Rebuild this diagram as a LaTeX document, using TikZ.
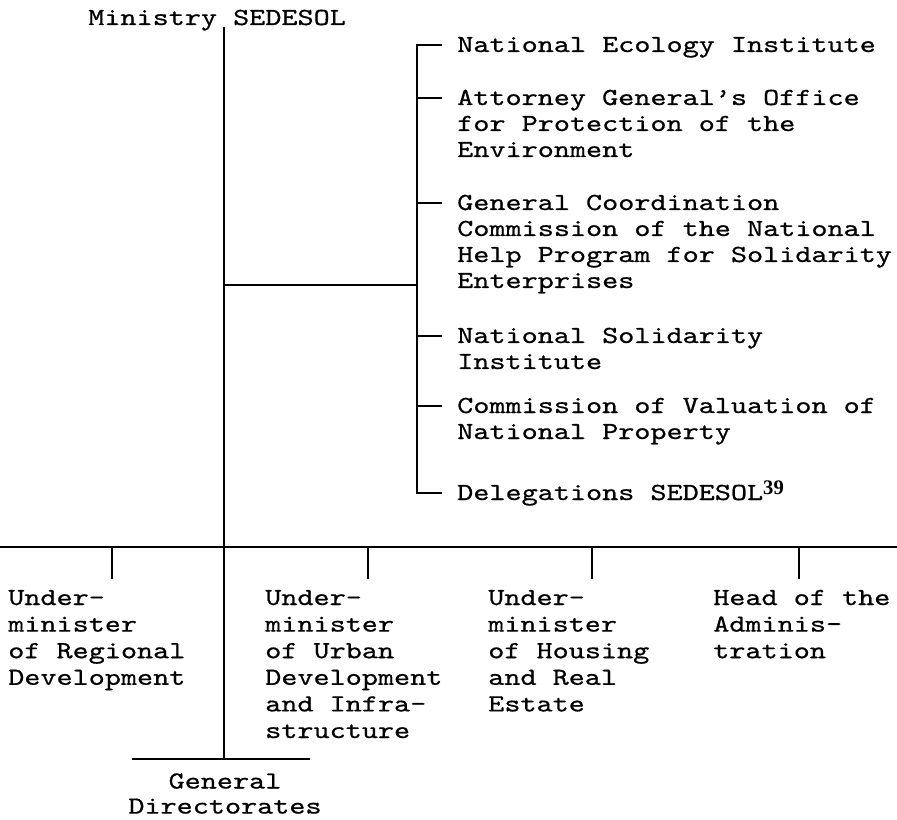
\documentclass[tikz,border=0pt]{standalone}
\usepackage{fontspec}
\newfontfamily\cour{lmmono10-regular.otf}[FakeStretch=1.25,FakeBold=0.6]
\newfontfamily\supfont{Liberation Serif}
\newcommand\mlines[1]{\begin{tabular}[t]{@{}l@{}}#1\end{tabular}}
\begin{document}
\begin{tikzpicture}[x=0.75pt,y=-0.75pt,
  txt/.style={inner sep=0pt, anchor=base west, font=\cour\fontsize{18.4}{19.5}\selectfont},
  btxt/.style={txt, font=\cour\fontsize{18.4}{19.95}\selectfont},
  ctxt/.style={inner sep=0pt, anchor=south, align=center, font=\cour\fontsize{18.4}{18.8}\selectfont},
  ln/.style={line width=1.2pt, line cap=rect}]
\useasboundingbox (0,0) rectangle (897,820);

% title
\node[txt] (min) at (88,25) {Ministry SEDESOL};

% right group
\node[txt] (n1) at (457,52) {National Ecology Institute};
\node[txt] (n2) at (457,105) {\mlines{Attorney General’s Office\\for Protection of the\\Environment}};
\node[txt] (n3) at (457,210) {\mlines{General Coordination\\Commission of the National\\Help Program for Solidarity\\Enterprises}};
\node[txt] (n4) at (457,343) {\mlines{National Solidarity\\Institute}};
\node[txt] (n5) at (457,413) {\mlines{Commission of Valuation of\\National Property}};
\node[txt] (n6) at (457,500) {Delegations SEDESOL\raisebox{4pt}{\supfont\bfseries\fontsize{15.5}{15.5}\selectfont 39}};

% bottom group
\node[btxt] (u1) at (8,605) {\mlines{Under-\\minister\\of Regional\\Development}};
\node[btxt] (u2) at (265,605) {\mlines{Under-\\minister\\of Urban\\Development\\and Infra-\\structure}};
\node[btxt] (u3) at (488,605) {\mlines{Under-\\minister\\of Housing\\and Real\\Estate}};
\node[btxt] (u4) at (713,605) {\mlines{Head of the\\Adminis-\\tration}};
\node[ctxt] (gd) at (225,814) {General\\Directorates};

% coordinates
\coordinate (top) at (224,28);
\coordinate (hub) at (224,285);
\coordinate (gdl) at (224,759);
\coordinate (sv1) at (417,45);
\coordinate (sv6) at (417,493);
\coordinate (hubr) at (417,285);
\coordinate (bl) at (0,547);
\coordinate (br) at (897,547);
\coordinate (gdla) at (133,759);
\coordinate (gdlb) at (309,759);

% main trunk
\draw[ln] (top) -- (gdl);
\draw[ln] (hub) -- (hubr);
\draw[ln] (sv1) -- (sv6);
\foreach \n in {n1,n2,n3,n4,n5,n6}
  \draw[ln] (\n.base west) ++(-40,-7) -- ++(24,0);

% bottom bar
\draw[ln] (bl) -- (br);
\foreach \x in {112,368,592,799}
  \draw[ln] (\x,547) -- (\x,578);
\draw[ln] (gdla) -- (gdlb);
\end{tikzpicture}
\end{document}
